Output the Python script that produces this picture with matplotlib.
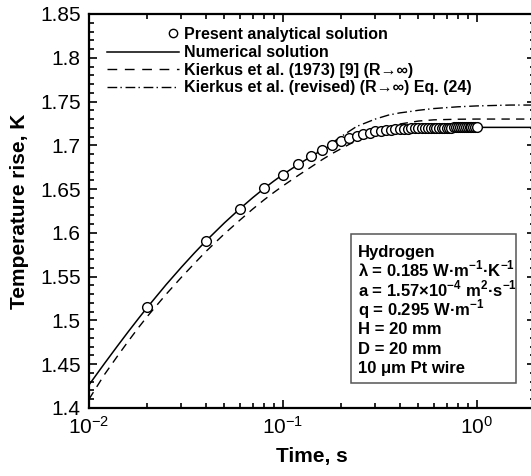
import numpy as np
import matplotlib
matplotlib.use('Agg')
import matplotlib.pyplot as plt
from matplotlib.patches import Rectangle
from matplotlib.ticker import MultipleLocator, LogLocator, NullFormatter

plt.rcParams['font.family'] = ['Liberation Sans', 'DejaVu Sans']
plt.rcParams['mathtext.fontset'] = 'custom'
plt.rcParams['mathtext.rm'] = 'Liberation Sans'
plt.rcParams['mathtext.bf'] = 'Liberation Sans:bold'

# Present analytical solution (markers)
t_marker = [0.02, 0.04, 0.06, 0.08, 0.10, 0.12, 0.14, 0.16, 0.18, 0.20,
            0.22, 0.24, 0.26, 0.28, 0.30, 0.32, 0.34, 0.36, 0.38, 0.40,
            0.42, 0.44, 0.46, 0.48, 0.50, 0.52, 0.54, 0.56, 0.58, 0.60,
            0.62, 0.64, 0.66, 0.68, 0.70, 0.72, 0.74, 0.76, 0.78, 0.80,
            0.82, 0.84, 0.86, 0.88, 0.90, 0.92, 0.94, 0.96, 0.98, 1.00]
T_marker = [1.5155, 1.5905, 1.6275, 1.6507, 1.6666, 1.6781, 1.6873, 1.6948, 1.7007, 1.7052,
            1.7086, 1.7111, 1.7131, 1.7146, 1.7159, 1.7167, 1.7174, 1.7180, 1.7184, 1.7188,
            1.7190, 1.7192, 1.7194, 1.7196, 1.7197, 1.7198, 1.7199, 1.7200, 1.7200, 1.7201,
            1.7202, 1.7202, 1.7202, 1.7203, 1.7203, 1.7203, 1.7203, 1.7204, 1.7204, 1.7204,
            1.7204, 1.7204, 1.7204, 1.7205, 1.7205, 1.7205, 1.7205, 1.7205, 1.7205, 1.7205]

# Numerical solution
t_num = [0.010, 0.012, 0.014, 0.016, 0.018, 0.020, 0.025, 0.030, 0.035, 0.040,
         0.050, 0.060, 0.070, 0.080, 0.090, 0.100, 0.120, 0.140, 0.160, 0.180,
         0.200, 0.220, 0.250, 0.300, 0.350, 0.400, 0.500, 0.600, 0.800, 1.000,
         1.500, 2.000]
T_num = [1.4264, 1.4506, 1.4706, 1.4876, 1.5022, 1.5150, 1.5409, 1.5609, 1.5771, 1.5905,
         1.6115, 1.6275, 1.6403, 1.6507, 1.6593, 1.6666, 1.6781, 1.6873, 1.6948, 1.7007,
         1.7052, 1.7086, 1.7123, 1.7159, 1.7177, 1.7188, 1.7197, 1.7201, 1.7204, 1.7205,
         1.7205, 1.7205]

# Kierkus et al. (1973)
t_k73 = [0.010, 0.012, 0.014, 0.016, 0.018, 0.020, 0.025, 0.030, 0.035, 0.040,
         0.050, 0.060, 0.070, 0.080, 0.090, 0.100, 0.120, 0.140, 0.160, 0.180,
         0.200, 0.220, 0.250, 0.300, 0.350, 0.400, 0.500, 0.600, 0.800, 1.000,
         1.500, 2.000]
T_k73 = [1.4100, 1.4380, 1.4590, 1.4767, 1.4918, 1.5046, 1.5299, 1.5494, 1.5651, 1.5785,
         1.5990, 1.6145, 1.6273, 1.6377, 1.6463, 1.6536, 1.6656, 1.6753, 1.6838, 1.6907,
         1.6962, 1.7011, 1.7073, 1.7149, 1.7207, 1.7243, 1.7277, 1.7291, 1.7298, 1.7300,
         1.7300, 1.7300]

# Kierkus et al. (revised), Eq. (24)
t_rev = [0.15, 0.18, 0.20, 0.24, 0.30, 0.35, 0.40, 0.45, 0.50, 0.60, 0.80, 1.00, 1.50, 2.00]
T_rev = [1.692, 1.703, 1.710, 1.7215, 1.730, 1.7345, 1.737, 1.7385, 1.740, 1.742, 1.744,
         1.745, 1.746, 1.746]

legend_labels = ['Present analytical solution',
                 'Numerical solution',
                 'Kierkus et al. (1973) [9] (R\u2192\u221e)',
                 'Kierkus et al. (revised) (R\u2192\u221e) Eq. (24)']

info_lines = ['Hydrogen',
              '\u03bb = 0.185 W\u00b7m$^{\\mathbf{-1}}$\u00b7K$^{\\mathbf{-1}}$',
              'a = 1.57\u00d710$^{\\mathbf{-4}}$ m$^{\\mathbf{2}}$\u00b7s$^{\\mathbf{-1}}$',
              'q = 0.295 W\u00b7m$^{\\mathbf{-1}}$',
              'H = 20 mm',
              'D = 20 mm',
              '10 \u03bcm Pt wire']

fig = plt.figure(figsize=(5.31, 4.76), dpi=100)
ax = fig.add_axes([0.1676, 0.1429, 0.840, 0.8277])

ax.plot(t_num, T_num, color='black', lw=1.1)
ax.plot(t_k73, T_k73, color='black', lw=1.0, dashes=(6, 4.5))
ax.plot(t_rev, T_rev, color='black', lw=1.0, dashes=(7, 2.3, 1, 2.7))
ax.plot(t_marker, T_marker, linestyle='none', marker='o', ms=7,
        mfc='white', mec='black', mew=1.0)

ax.set_xscale('log')
ax.set_yticks([1.4, 1.45, 1.5, 1.55, 1.6, 1.65, 1.7, 1.75, 1.8, 1.85])
ax.set_yticklabels(['1.4', '1.45', '1.5', '1.55', '1.6', '1.65', '1.7', '1.75', '1.8', '1.85'])
ax.yaxis.set_minor_locator(MultipleLocator(0.01))
ax.xaxis.set_minor_locator(LogLocator(base=10, subs=np.arange(2, 10)))
ax.xaxis.set_minor_formatter(NullFormatter())

ax.tick_params(which='both', direction='in', top=True, right=True, width=1.2)
ax.tick_params(which='major', length=6, labelsize=15, pad=6)
ax.tick_params(which='minor', length=3.5)
for s in ax.spines.values():
    s.set_linewidth(1.6)

ax.set_xlabel('Time, s', fontsize=15, fontweight='bold', labelpad=6)
ax.set_ylabel('Temperature rise, K', fontsize=15, fontweight='bold', labelpad=8)

# legend drawn by hand (marker sits at the right end of its handle)
rows_y = [0.951, 0.904, 0.860, 0.8155]
base_y = [0.937, 0.890, 0.845, 0.801]
hx0, hx1, tx = 0.0395, 0.202, 0.213
ax.plot([0.189], [rows_y[0]], transform=ax.transAxes, marker='o', ms=6,
        mfc='white', mec='black', mew=1.0, linestyle='none', clip_on=False)
ax.plot([hx0, hx1], [rows_y[1]] * 2, transform=ax.transAxes, color='black', lw=1.1)
ax.plot([hx0, hx1], [rows_y[2]] * 2, transform=ax.transAxes, color='black', lw=1.0,
        dashes=(7, 5.5))
ax.plot([hx0, hx1], [rows_y[3]] * 2, transform=ax.transAxes, color='black', lw=1.0,
        dashes=(7, 2.3, 1, 2.7))
for y, lab in zip(base_y, legend_labels):
    ax.text(tx, y, lab, transform=ax.transAxes, fontsize=11.5, fontweight='bold',
            va='baseline', ha='left')

ax.set_xlim(0.01, 2.0)
ax.set_ylim(1.4, 1.85)

# parameter box
ax.add_patch(Rectangle((0.5868, 0.0642), 0.3706, 0.3774, transform=ax.transAxes,
                       facecolor='white', edgecolor='#555555', lw=1.1, zorder=3))
info_y = [0.3840, 0.3332, 0.2843, 0.2360, 0.1870, 0.1370, 0.0881]
for y, line in zip(info_y, info_lines):
    ax.text(0.6038, y, line, transform=ax.transAxes, fontsize=12,
            fontweight='bold', va='baseline', ha='left', zorder=4)

fig.savefig('out.png', dpi=100)
